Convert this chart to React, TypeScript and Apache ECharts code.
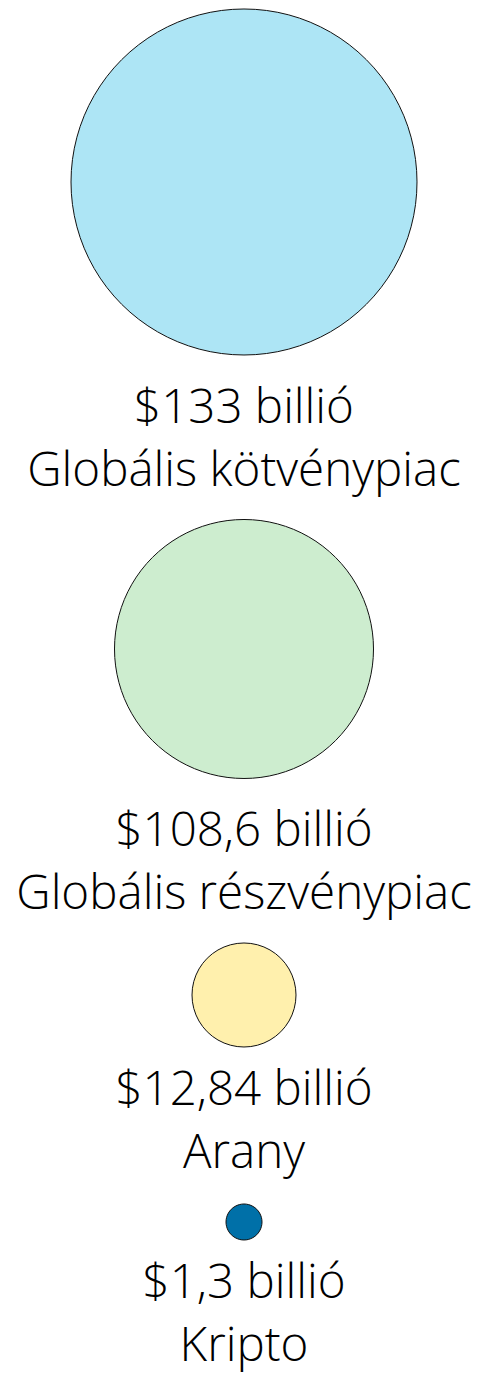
import React, { useEffect, useRef } from "react";
import * as echarts from "echarts";

// Data
const assets = ["Globális kötvénypiac", "Globális részvénypiac", "Arany", "Kripto"];
const marketCapTrillion = [133, 108.6, 12.84, 1.3];
const unitLabel = "billió";

// Layout / style (not data)
const centerX = 244;
const centerY = [182, 649, 995, 1222];
const diameters = [346, 259, 104, 36];
const labelGap = [17, 17, 7, 7];
const fills = ["#ADE5F5", "#CDEDCF", "#FFF0AD", "#0070A8"];

const fmt = (v: number) => `$${String(v).replace(".", ",")} ${unitLabel}`;

export default function App() {
  const ref = useRef<HTMLDivElement>(null);
  useEffect(() => {
    if (!ref.current) return;
    const chart = echarts.init(ref.current, null, { renderer: "svg" });
    chart.setOption({
      animation: false,
      grid: { left: 0, right: 0, top: 0, bottom: 0 },
      xAxis: { type: "value", min: 0, max: 477, show: false },
      yAxis: { type: "value", min: 0, max: 1376, inverse: true, show: false },
      series: [
        {
          type: "scatter",
          symbol: "circle",
          data: assets.map((name, i) => ({
            name,
            value: [centerX, centerY[i], marketCapTrillion[i]],
            symbolSize: diameters[i],
            itemStyle: { color: fills[i], borderColor: "#111", borderWidth: 1, opacity: 1 },
            label: { distance: labelGap[i] },
          })),
          label: {
            show: true,
            position: "bottom",
            formatter: (p: any) => `${fmt(p.value[2])}\n${p.name}`,
            fontFamily: "'Open Sans'",
            fontWeight: 300,
            fontSize: 47.5,
            lineHeight: 63,
            color: "#000",
            align: "center",
          },
          emphasis: { disabled: true },
        },
      ],
    });
    return () => chart.dispose();
  }, []);
  return (
    <div
      ref={ref}
      style={{ position: "absolute", left: 0, top: 0, width: 477, height: 1376, background: "#fff" }}
    />
  );
}
